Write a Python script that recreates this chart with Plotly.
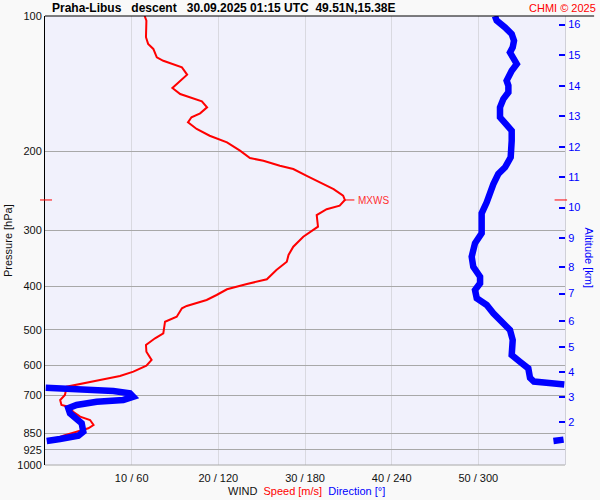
import plotly.graph_objects as go

# ---- data ----
speed_p = [100, 102.4, 111.5, 115.4, 118.4, 123.6, 125.8, 127.9, 130.1, 135.1, 139.3, 144.6, 149.2,
           152.3, 154.9, 159.7, 164.7, 168.1, 172.5, 178.5, 184.8, 191.1, 199.5, 207.2, 210.1, 215.5,
           219.2, 226.9, 234.6, 242.9, 251.3, 256.9, 264.5, 269.4, 277.5, 294.6, 310.1, 326.4, 340.6,
           352.6, 367.9, 385.8, 395.3, 406.1, 418.2, 429.0, 442.4, 447.7, 467.4, 479.6, 508.9, 522.1,
           540.4, 559.3, 583.6, 600.9, 619.7, 633.5, 646.6, 657.6, 669.2, 684.1, 698.3, 716.4, 735.0,
           741.5, 760.8, 780.5, 793.9, 814.5, 828.4, 843.0, 860.4, 879.6, 884.1]
speed_ms = [11.5, 11.7, 11.65, 11.9, 12.5, 12.9, 13.65, 14.8, 15.8, 16.4, 15.6, 14.7, 15.6, 16.9,
            18.1, 18.7, 17.9, 16.9, 16.5, 17.5, 19.0, 21.0, 22.5, 23.65, 25.2, 27.1, 28.65, 30.2,
            31.7, 33.3, 34.4, 34.6, 34.0, 32.5, 31.35, 31.5, 29.8, 28.65, 28.1, 27.9, 26.7, 25.6,
            23.3, 21.0, 19.8, 18.65, 16.35, 15.8, 15.2, 13.85, 13.65, 12.7, 11.65, 11.7, 12.3, 11.7,
            10.2, 8.65, 6.35, 4.4, 2.5, 2.4, 2.3, 1.75, 1.9, 2.7, 3.25, 4.05, 5.2, 5.6, 5.0, 3.65,
            2.1, 0.95, 0.4]

dir_p_upper = [100, 102.4, 106.0, 109.7, 113.5, 117.4, 120.5, 124.7, 127.9, 132.4, 139.3, 142.9,
               147.9, 153.1, 159.7, 168.1, 174.0, 180.1, 189.6, 206.4, 217.3, 224.9, 236.7, 249.2,
               260.0, 275.1, 304.8, 320.8, 343.6, 361.8, 380.7, 393.9, 407.6, 425.3, 440.1, 459.2,
               483.5, 500.4, 526.7, 568.8, 588.8, 609.1, 640.0, 652.0, 657.0, 662.0]
dir_upper = [311.5, 312.7, 318.5, 323.1, 324.7, 323.8, 321.9, 325.4, 326.6, 323.1, 319.6, 320.8,
             320.8, 317.3, 315.0, 315.0, 318.5, 323.1, 323.1, 322.4, 318.5, 313.8, 310.4, 308.1,
             305.8, 302.3, 302.3, 297.7, 295.4, 296.5, 301.2, 301.2, 297.7, 298.9, 305.8, 310.4,
             317.3, 321.9, 323.8, 323.1, 328.8, 334.6, 335.8, 338.5, 349.0, 359.5]
dir_p_lower = [672.7, 674.8, 680.7, 684.2, 692.3, 704.6, 716.4, 722.8, 735.0, 747.5, 767.2, 787.0,
               807.5, 843.0, 860.4, 875.1, 884.1]
dir_lower = [0.5, 10.4, 31.2, 47.3, 58.8, 61.1, 54.2, 35.8, 21.9, 16.1, 17.3, 20.8, 25.4, 26.5,
             23.1, 10.4, 1.2]
dir_p_surface = [878, 884]
dir_surface = [359, 352]

p_ticks = [100, 200, 300, 400, 500, 600, 700, 850, 925, 1000]
x_ticks = [10, 20, 30, 40, 50]
x_ticktext = ["10 / 60", "20 / 120", "30 / 180", "40 / 240", "50 / 300"]
alt_km = [2, 3, 4, 5, 6, 7, 8, 9, 10, 11, 12, 13, 14, 15, 16]
alt_p = [802, 706, 621, 547, 478, 415, 362, 312, 267, 228, 195.5, 167.4, 143.2, 122.1, 104.5]

mxws_p = 256.9
mxws_speed = 34.6

FONT = "Liberation Sans, Arial, sans-serif"

fig = go.Figure()

dir_x = dir_upper + [None] + dir_lower + [None] + dir_surface
dir_y = dir_p_upper + [None] + dir_p_lower + [None] + dir_p_surface
# invisible carrier so the altitude axis (y2) is drawn
fig.add_trace(go.Scatter(x=speed_ms, y=speed_p, xaxis="x", yaxis="y2", mode="lines",
                         line=dict(color="rgba(0,0,0,0)", width=0), opacity=0,
                         hoverinfo="skip", showlegend=False))
fig.add_trace(go.Scatter(x=dir_x, y=dir_y, xaxis="x2", yaxis="y", mode="lines",
                         line=dict(color="#0000ff", width=6.5), connectgaps=False,
                         hoverinfo="skip", showlegend=False))
fig.add_trace(go.Scatter(x=speed_ms, y=speed_p, xaxis="x", yaxis="y", mode="lines",
                         line=dict(color="#ff0000", width=2),
                         hoverinfo="skip", showlegend=False))

fig.update_layout(
    width=600, height=500,
    margin=dict(l=45, r=35, t=16, b=35, autoexpand=False),
    paper_bgcolor="#f9f9f9",
    plot_bgcolor="#f1f1fc",
    font=dict(family=FONT, size=11, color="#111111"),
    showlegend=False,
    xaxis=dict(range=[0, 60], tickvals=x_ticks, ticktext=x_ticktext, showgrid=True,
               gridcolor="#d9d9e0", gridwidth=1, zeroline=False, showline=False,
               ticks="outside", ticklen=3, tickcolor="rgba(0,0,0,0)", automargin=False,
               tickfont=dict(size=11, color="#111111")),
    xaxis2=dict(range=[0, 360], overlaying="x", visible=False, automargin=False),
    yaxis=dict(type="log", range=[3, 2], tickvals=p_ticks, ticktext=[str(v) for v in p_ticks],
               showgrid=True, gridcolor="#a8a8a8", gridwidth=1, zeroline=False,
               showline=True, linecolor="#000000", linewidth=1, ticks="", automargin=False,
               tickfont=dict(size=11, color="#111111")),
    yaxis2=dict(type="log", range=[3, 2], overlaying="y", side="right", anchor="x",
                tickmode="array", tickvals=alt_p,
                ticktext=[str(v) for v in alt_km], showgrid=False, zeroline=False,
                showline=True, linecolor="#d0d0d8", linewidth=1, automargin=False,
                ticks="inside", ticklen=6, tickwidth=2, tickcolor="#0000ff",
                showticklabels=True, tickfont=dict(size=11, color="#0000ff")),
)

shapes = [
    # top black border line
    dict(type="line", xref="paper", yref="paper", x0=0, x1=1.056, y0=1, y1=1,
         line=dict(color="#000000", width=1)),
    # bottom 1000 hPa line
    dict(type="line", xref="paper", yref="paper", x0=0, x1=1, y0=0, y1=0,
         line=dict(color="#a8a8a8", width=1)),
    # MXWS level marks at both edges
    dict(type="line", xref="paper", yref="y", x0=-0.0096, x1=0.0135, y0=mxws_p, y1=mxws_p,
         line=dict(color="#ff0000", width=1)),
    dict(type="line", xref="paper", yref="y", x0=0.98, x1=1.004, y0=mxws_p, y1=mxws_p,
         line=dict(color="#ff0000", width=1)),
    # MXWS tick at the max-wind point
    dict(type="line", xref="x", yref="y", x0=mxws_speed, x1=mxws_speed + 1.1, y0=mxws_p, y1=mxws_p,
         line=dict(color="#ff0000", width=1)),
]
fig.update_layout(shapes=shapes)

nb = "\u00a0"
annotations = [
    dict(text="<b>Praha-Libus" + nb * 3 + "descent" + nb * 3 + "30.09.2025 01:15 UTC" + nb * 2 +
              "49.51N,15.38E</b>",
         xref="paper", yref="paper", x=0.0096, y=1.0178, xanchor="left", yanchor="middle",
         showarrow=False, font=dict(size=12, color="#000000", family=FONT)),
    dict(text="CHMI © 2025", xref="paper", yref="paper", x=1.0625, y=1.0178,
         xanchor="right", yanchor="middle", showarrow=False,
         font=dict(size=11, color="#ff0000", family=FONT)),
    dict(text="MXWS", xref="x", yref="y", x=mxws_speed + 1.3, y=2.4098, xanchor="left",
         yanchor="middle", showarrow=False, font=dict(size=10, color="#ff3030", family=FONT)),
    dict(text="Pressure [hPa]", xref="paper", yref="paper", x=-0.0721, y=0.5, textangle=-90,
         xanchor="center", yanchor="middle", showarrow=False,
         font=dict(size=11, color="#111111", family=FONT)),
    dict(text="Altitude [km]", xref="paper", yref="paper", x=1.046, y=0.46, textangle=90,
         xanchor="center", yanchor="middle", showarrow=False,
         font=dict(size=11, color="#0000ff", family=FONT)),
    dict(text="WIND" + nb * 2 + "<span style='color:#ff0000'>Speed [m/s]</span>" + nb * 2 +
              "<span style='color:#0000ff'>Direction [°]</span>",
         xref="paper", yref="paper", x=0.503, y=-0.058, xanchor="center", yanchor="middle",
         showarrow=False, font=dict(size=11, color="#111111", family=FONT)),
]
fig.update_layout(annotations=annotations)

fig.write_html("out.html", config={"displayModeBar": False},
               post_script="document.body.style.margin='0';document.body.style.background='#f9f9f9';")
